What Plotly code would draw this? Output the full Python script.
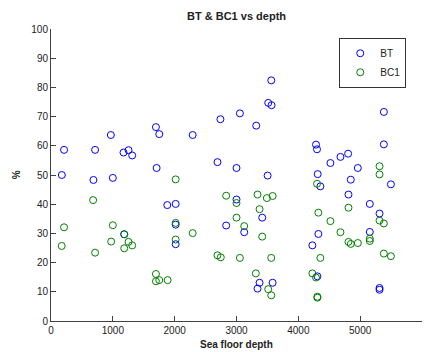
import plotly.graph_objects as go

depth_bt = [175, 211, 713, 686, 968, 1000, 1173, 1254, 1313, 1697, 1751, 1708, 2291, 2740,
            2692, 3055, 3000, 3562, 3513, 3567, 3319, 5383, 5383, 4286, 4302, 4805, 4681, 4519,
            4962, 3503, 4313, 4848,
            1881, 2016, 2016, 2016, 1184, 2833, 3000, 4356, 5497, 4811, 5156, 5313, 5156, 3125,
            3416, 4227, 4324, 4308, 3373, 3340, 3584, 5313, 5313]
bt = [50.0, 58.6, 58.6, 48.3, 63.7, 49.0, 57.7, 58.5, 56.7, 66.4, 64.0, 52.4, 63.7, 69.1,
      54.4, 71.1, 52.4, 82.4, 74.7, 73.9, 66.9, 71.6, 60.5, 60.4, 58.8, 57.3, 56.2, 54.1,
      52.4, 49.8, 50.3, 48.4,
      39.7, 40.1, 33.0, 26.3, 29.7, 32.7, 41.6, 46.1, 46.8, 43.3, 40.1, 36.8, 30.5, 30.4,
      35.4, 25.9, 29.8, 15.3, 13.1, 11.1, 13.1, 11.3, 10.7]

depth_bc1 = [2016, 5313, 5313, 681, 1000, 211, 173, 713, 973, 1184, 1184, 1254, 1313, 2016,
             2016, 2291, 2833, 3000, 3000, 3055, 2746, 2692, 1697, 1697, 1751, 1886,
             4302, 3340, 3491, 3584, 3373, 3125, 3416, 4324, 4519, 4811, 4681, 4811, 4848,
             4962, 5156, 5156, 5313, 5383, 5383, 5497, 3562, 4356, 3313, 3513, 3562, 4227,
             4286, 4308, 4308]
bc1 = [48.5, 53.0, 50.2, 41.4, 32.8, 32.1, 25.7, 23.4, 27.2, 29.7, 24.9, 27.1, 25.9, 33.6,
       27.9, 30.1, 42.9, 40.4, 35.4, 21.6, 21.8, 22.5, 16.1, 13.6, 14.0, 14.0,
       47.0, 43.3, 42.1, 42.8, 38.3, 32.5, 28.9, 37.1, 34.2, 38.8, 30.4, 27.1, 26.4,
       26.7, 28.2, 27.4, 34.4, 33.4, 23.1, 22.2, 21.6, 21.6, 16.3, 10.9, 8.8, 16.3,
       14.9, 8.3, 8.0]

x_ticks = [0, 1000, 2000, 3000, 4000, 5000, 6000]
y_ticks = [0, 10, 20, 30, 40, 50, 60, 70, 80, 90, 100]

FONT = "Liberation Sans, Arial, sans-serif"

fig = go.Figure()
fig.add_trace(go.Scatter(x=depth_bt, y=bt, mode="markers", name="BT",
                         marker=dict(symbol="circle-open", size=7, color="#0000ff",
                                     line=dict(width=1, color="#0000ff"))))
fig.add_trace(go.Scatter(x=depth_bc1, y=bc1, mode="markers", name="BC1",
                         marker=dict(symbol="circle-open", size=7, color="#008000",
                                     line=dict(width=1, color="#008000"))))

axis_common = dict(showgrid=False, zeroline=False, showline=True, linecolor="#404040",
                   linewidth=1, ticks="inside", ticklen=5, tickcolor="#404040",
                   tickfont=dict(family=FONT, size=10, color="#222222"))

# The page body adds an 8px margin, so the figure is 8px smaller and offset.
fig.update_layout(
    width=425, height=344,
    margin=dict(l=43, r=11, t=20.5, b=31.3, autoexpand=False),
    paper_bgcolor="white", plot_bgcolor="white",
    xaxis=dict(range=[0, 6000], tickvals=x_ticks, **axis_common),
    yaxis=dict(range=[0, 100], tickvals=y_ticks, **axis_common),
    showlegend=True,
    legend=dict(x=0.777, y=0.97, xanchor="left", yanchor="top",
                bordercolor="#333333", borderwidth=1, bgcolor="white",
                font=dict(family=FONT, size=10, color="#222222"),
                tracegroupgap=0, itemwidth=30, entrywidth=40),
    annotations=[
        dict(text="<b>BT & BC1 vs depth</b>", xref="paper", yref="paper", x=0.5, y=1.046,
             showarrow=False, font=dict(family=FONT, size=11, color="#222222"),
             xanchor="center", yanchor="middle"),
        dict(text="<b>Sea floor depth</b>", xref="paper", yref="paper", x=0.5, y=-0.08,
             showarrow=False, font=dict(family=FONT, size=10, color="#222222"),
             xanchor="center", yanchor="middle"),
        dict(text="<b>%</b>", xref="paper", yref="paper", x=-0.094, y=0.5, textangle=-90,
             showarrow=False, font=dict(family=FONT, size=10, color="#222222"),
             xanchor="center", yanchor="middle"),
    ],
)

fig.write_html("out.html")
